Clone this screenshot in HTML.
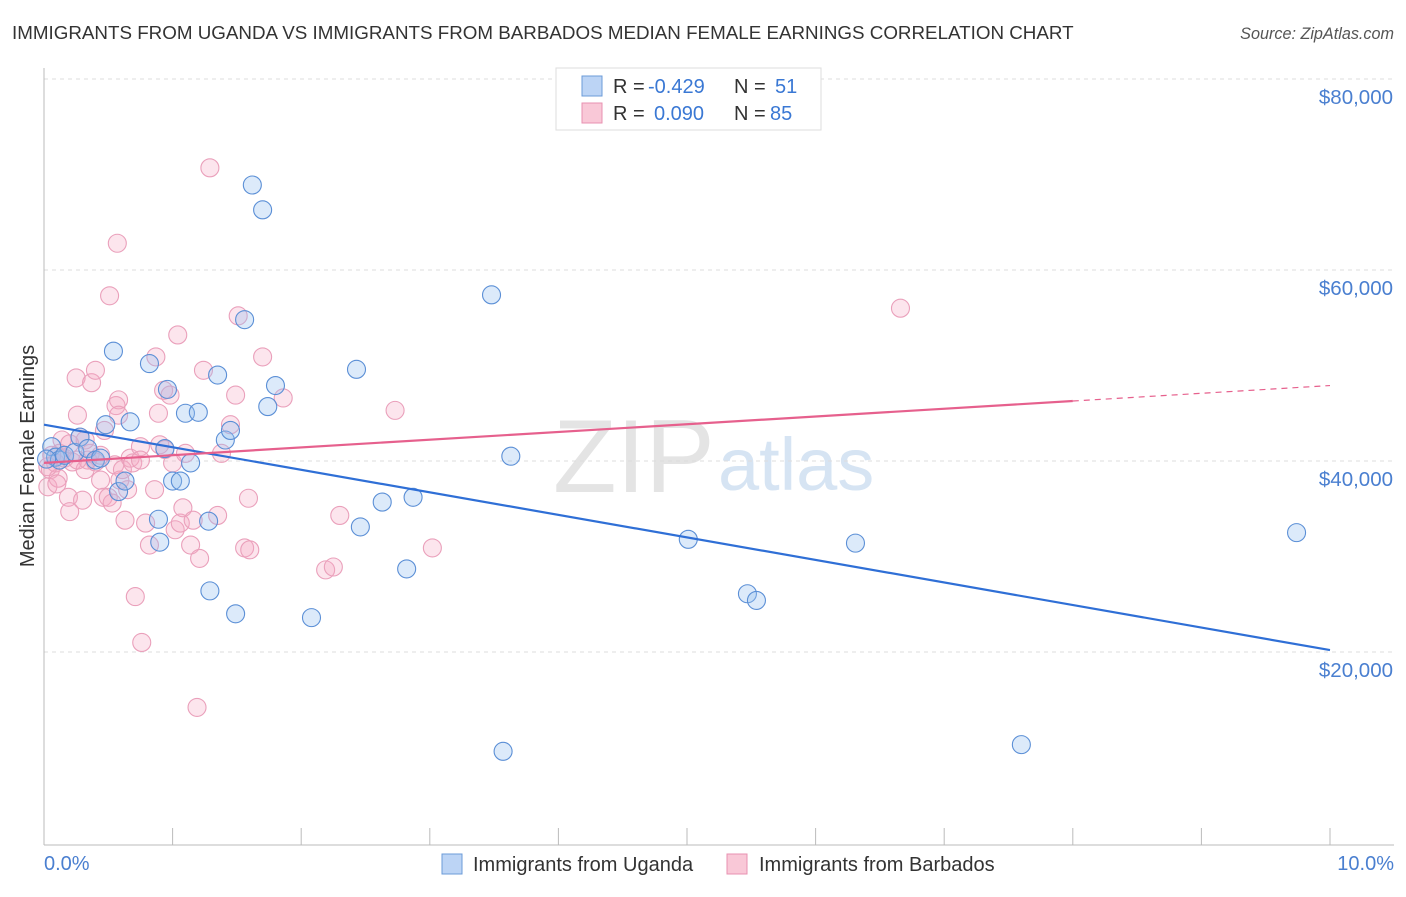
<!DOCTYPE html>
<html><head><meta charset="utf-8"><style>
body{margin:0;background:#fff;font-family:"Liberation Sans",sans-serif;}
svg text{font-family:"Liberation Sans",sans-serif;}
</style></head><body>
<svg id="chart" width="1406" height="892">
<text x="12" y="39" font-size="18.8" fill="#333">IMMIGRANTS FROM UGANDA VS IMMIGRANTS FROM BARBADOS MEDIAN FEMALE EARNINGS CORRELATION CHART</text>
<text x="1394" y="39" font-size="16.2" fill="#555" font-style="italic" text-anchor="end">Source: ZipAtlas.com</text>
<text x="553" y="492" font-size="104" fill="#e4e4e4" font-family="Liberation Serif">ZIP</text>
<text x="718" y="490" font-size="74" fill="#d6e4f3">atlas</text>
<g id="grid"></g><g id="axes"></g><g id="pts"></g><g id="trend"></g>
<text transform="translate(34,456) rotate(-90)" font-size="20" fill="#333" text-anchor="middle">Median Female Earnings</text>
<text x="44" y="870" font-size="20" fill="#4a7fd0">0.0%</text>
<text x="1394" y="870" font-size="20" fill="#4a7fd0" text-anchor="end">10.0%</text>
<g>
<rect x="556" y="68" width="265" height="62" fill="#fff" stroke="#ddd"/>
<rect x="582" y="76" width="20" height="20" fill="#bcd4f5" stroke="#6b9bd8"/>
<rect x="582" y="103" width="20" height="20" fill="#f9c8d7" stroke="#e891b0"/>
<text x="613" y="93" font-size="20" fill="#333">R =</text>
<text x="648" y="93" font-size="20" fill="#3a78d4">-0.429</text>
<text x="734" y="93" font-size="20" fill="#333">N =</text>
<text x="775" y="93" font-size="20" fill="#3a78d4">51</text>
<text x="613" y="120" font-size="20" fill="#333">R =</text>
<text x="654" y="120" font-size="20" fill="#3a78d4">0.090</text>
<text x="734" y="120" font-size="20" fill="#333">N =</text>
<text x="770" y="120" font-size="20" fill="#3a78d4">85</text>
</g>
<g>
<rect x="442" y="854" width="20" height="20" fill="#bcd4f5" stroke="#6b9bd8"/>
<text x="473" y="871" font-size="20" fill="#333">Immigrants from Uganda</text>
<rect x="727" y="854" width="20" height="20" fill="#f9c8d7" stroke="#e891b0"/>
<text x="759" y="871" font-size="20" fill="#333">Immigrants from Barbados</text>
</g>
</svg>
<script>
const yTicks=[20000,40000,60000,80000];
const yTickLabels=["$20,000","$40,000","$60,000","$80,000"];
const xTicks=[0,1,2,3,4,5,6,7,8,9,10];
const ugandaX=[0.06,0.09,0.12,0.16,0.24,0.28,0.34,0.40,0.44,0.48,0.54,0.58,0.63,0.67,0.82,0.89,0.90,0.94,0.96,1.00,1.06,1.10,1.14,1.20,1.28,1.29,1.35,1.41,1.45,1.49,1.56,1.62,1.70,1.74,1.80,2.08,2.43,2.46,2.63,2.82,2.87,3.48,3.57,3.63,5.01,5.47,5.54,6.31,7.60,9.74,0.02];
const ugandaY=[41.5,40.4,40.1,40.6,40.9,42.5,41.3,40.1,40.3,43.8,51.5,36.8,37.9,44.1,50.2,33.9,31.5,41.3,47.5,37.9,37.9,45.0,39.8,45.1,33.7,26.4,49.0,42.2,43.2,24.0,54.8,68.9,66.3,45.7,47.9,23.6,49.6,33.1,35.7,28.7,36.2,57.4,9.6,40.5,31.8,26.1,25.4,31.4,10.3,32.5,40.2];
const barbadosX=[0.03,0.05,0.09,0.11,0.14,0.16,0.19,0.20,0.22,0.25,0.26,0.28,0.30,0.32,0.34,0.36,0.37,0.40,0.40,0.44,0.46,0.47,0.50,0.51,0.53,0.55,0.56,0.57,0.58,0.59,0.61,0.63,0.65,0.67,0.69,0.71,0.75,0.76,0.79,0.82,0.86,0.87,0.89,0.90,0.93,0.94,0.98,1.00,1.02,1.04,1.06,1.08,1.10,1.14,1.16,1.19,1.21,1.24,1.29,1.35,1.38,1.45,1.49,1.51,1.56,1.59,1.60,1.70,1.86,2.19,2.25,2.30,2.73,3.02,6.66,0.03,0.12,0.32,0.44,0.58,0.75,0.26,0.20,0.06,0.10];
const barbadosY=[37.3,39.1,39.8,38.2,42.2,40.3,36.2,34.7,39.9,48.7,44.8,42.5,35.9,39.1,40.1,40.8,48.2,49.5,39.9,38.0,36.2,43.2,36.2,57.3,35.6,39.6,45.8,62.8,46.4,38.0,39.1,33.8,37.0,40.3,39.8,25.8,41.5,21.0,33.5,31.2,37.0,50.9,45.0,41.7,47.4,41.2,46.9,39.8,32.8,53.2,33.5,35.1,40.8,31.2,33.8,14.2,29.8,49.5,70.7,34.3,40.8,43.8,46.9,55.2,30.9,36.1,30.7,50.9,46.6,28.6,28.9,34.3,45.3,30.9,56.0,39.4,40.8,42.2,40.6,44.8,40.1,40.1,41.8,40.6,37.6];
const ugandaTrend=[43.8,20.2];   // value at 0% and at 10%
const barbadosTrend=[39.8,47.9];
const NS="http://www.w3.org/2000/svg";
function xs(p){return 44+p*128.6;}
function ys(k){return 461-(k-40)*9.55;}
function mk(tag,attrs,parent){const e=document.createElementNS(NS,tag);for(const k in attrs)e.setAttribute(k,attrs[k]);parent.appendChild(e);return e;}
const grid=document.getElementById('grid'),axes=document.getElementById('axes'),pts=document.getElementById('pts'),tr=document.getElementById('trend');
yTicks.forEach((v,i)=>{const y=ys(v/1000);
 const l=mk('line',{x1:44,x2:1394,y1:y,y2:y,stroke:'#ddd','stroke-dasharray':'4,4'},grid);
 
 
 const t=mk('text',{x:1393,y:y+25,'font-size':20.5,fill:'#4a7fd0','text-anchor':'end'},grid);t.textContent=yTickLabels[i];
 
 
});
{const l=mk('line',{x1:44,x2:1394,y1:79,y2:79,stroke:'#ddd','stroke-dasharray':'4,4'},grid);}
{const a=mk('line',{x1:44,x2:44,y1:68,y2:845,stroke:'#bbb'},axes);
 const b=mk('line',{x1:44,x2:1394,y1:845,y2:845,stroke:'#bbb'},axes);}
xTicks.forEach(p=>{const t=mk('line',{x1:xs(p),x2:xs(p),y1:828,y2:845,stroke:'#bbb'},axes);
 
 });
function drawPts(X,Y,fill,stroke,name){X.forEach((x,i)=>{const c=mk('circle',{cx:xs(x),cy:ys(Y[i]),r:9,fill:fill,stroke:stroke,'stroke-width':1.1},pts);
 
 });}
drawPts(barbadosX,barbadosY,'rgba(245,170,195,0.3)','#eaa0bb','barbados-point');
drawPts(ugandaX,ugandaY,'rgba(150,190,240,0.33)','#5b8fd6','uganda-point');
{const l=mk('line',{x1:xs(0),y1:ys(ugandaTrend[0]),x2:xs(10),y2:ys(ugandaTrend[1]),stroke:'#2f6fd6','stroke-width':2.2},tr);
 
 
 const f=x=>barbadosTrend[0]+(barbadosTrend[1]-barbadosTrend[0])*x/10;
 const p=mk('line',{x1:xs(0),y1:ys(f(0)),x2:xs(8),y2:ys(f(8)),stroke:'#e6608d','stroke-width':2.2},tr);
 
 
 const d=mk('line',{x1:xs(8),y1:ys(f(8)),x2:xs(10),y2:ys(f(10)),stroke:'#e6608d','stroke-width':1.2,'stroke-dasharray':'6,5'},tr);
 
 }
</script>
</body></html>
